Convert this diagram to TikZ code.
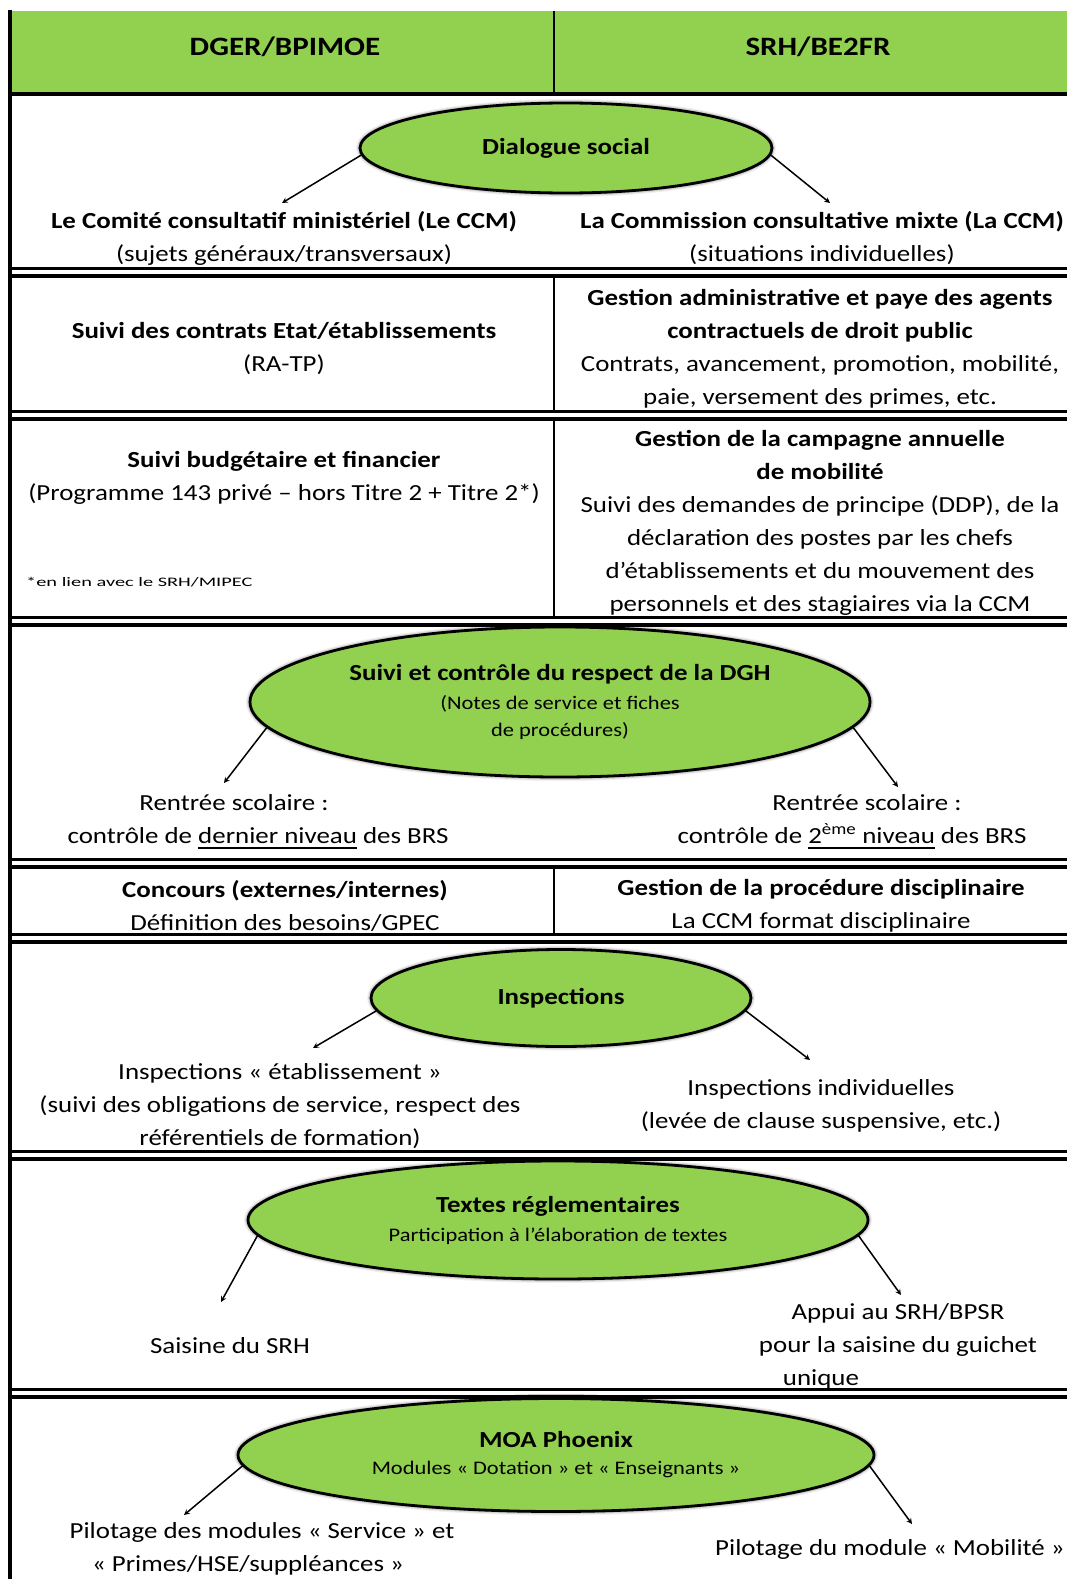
\documentclass[tikz,border=0pt]{standalone}
\usepackage{fontspec}
\setmainfont{Carlito}[FakeStretch=1.17]
\usetikzlibrary{arrows, shapes.geometric, shadows.blur}
\definecolor{officegreen}{HTML}{92D050}
\newcommand{\bodyfont}{\fontsize{23}{33}\selectfont}
\newcommand{\smallfont}{\fontsize{19.2}{27}\selectfont}
\newcommand{\headfont}{\fontsize{26.5}{34}\selectfont\bfseries}
\newcommand{\ulbar}[1]{\begingroup\setbox0=\hbox{#1}\rlap{\rule[-5pt]{\wd0}{2pt}}\box0\endgroup}
\tikzset{
    >=stealth, % arrow heads
    head/.style={font=\headfont, inner sep=0pt}, % column titles
    txt/.style={align=center, font=\bodyfont, inner sep=0pt}, % cell text
    bubble/.style={ellipse, draw=black, line width=2.8pt, fill=officegreen,
        align=center, font=\bodyfont, inner sep=0pt,
        blur shadow={shadow xshift=0pt, shadow yshift=0pt,
            shadow blur radius=4pt, shadow opacity=85}}, % green topics
    link/.style={->, line width=1.5pt}, % topic -> text
    rule/.style={line width=4pt},
    split/.style={line width=2.5pt}, % column divider
    sep/.style={double, double distance=4pt, line width=3.5pt}, % row border
}
\begin{document}
\begin{tikzpicture}[x=1pt, y=-1pt]
\useasboundingbox (0,0) rectangle (1067,1579);
% header
\fill[officegreen] (11.5,11) rectangle (1067,94);
\node[head] (dger) at (285,47) {DGER/BPIMOE};
\node[head] (srh) at (818,47) {SRH/BE2FR};
% grid
\draw[split] (554,11) -- (554,94);
\draw[split] (554,272) -- (554,621);
\draw[split] (554,863) -- (554,938);
\foreach \y in {272,415,621,863,938,1155,1393}
    \draw[sep] (11.5,\y) -- (1067,\y);
\draw[rule] (9.5,10) -- (9.5,1579);
\draw[rule] (7.5,94) -- (1067,94);

% dialogue social
\node[bubble, minimum width=412pt, minimum height=90pt] (dialog) at (566,148) {\textbf{Dialogue social}};
\node[txt] (ccmin) at (284,238) {\textbf{Le Comité consultatif ministériel (Le CCM)}\\(sujets généraux/transversaux)};
\node[txt] (ccmix) at (822,238) {\textbf{La Commission consultative mixte (La CCM)}\\(situations individuelles)};
\coordinate (ccmintip) at (282,203);
\coordinate (ccmixtip) at (830,203);
\draw[link] (dialog.182) -- (ccmintip);
\draw[link] (dialog.-2) -- (ccmixtip);

% contrats / gestion
\node[txt] (contrats) at (284,349) {\textbf{Suivi des contrats Etat/établissements}\\(RA-TP)};
\node[txt] (gestadm) at (820,349) {\textbf{Gestion administrative et paye des agents}\\\textbf{contractuels de droit public}\\Contrats, avancement, promotion, mobilité,\\paie, versement des primes, etc.};

% budget / mobilite
\node[txt] (budget) at (284,478) {\textbf{Suivi budgétaire et financier}\\(Programme 143 privé – hors Titre 2 + Titre 2*)};
\node[anchor=west, inner sep=0pt, font=\fontsize{13}{15}\selectfont] (note) at (26,582) {\scalebox{1.34}[1]{*en lien avec le SRH/MIPEC}};
\node[txt] (mobil) at (820,523) {\textbf{Gestion de la campagne annuelle}\\\textbf{de mobilité}\\Suivi des demandes de principe (DDP), de la\\déclaration des postes par les chefs\\d’établissements et du mouvement des\\personnels et des stagiaires via la CCM};

% DGH
\node[bubble, minimum width=620pt, minimum height=150pt] (dgh) at (560,702) {\textbf{Suivi et contrôle du respect de la DGH}\\[-4pt]\smallfont(Notes de service et fiches\\[-6pt]\smallfont de procédures)};
\node[txt] (rsdger) at (258,822) {Rentrée scolaire :\hspace*{48pt}\\contrôle de \ulbar{dernier niveau} des BRS};
\node[txt] (rssrh) at (852,822) {\hspace*{30pt}Rentrée scolaire :\\contrôle de \ulbar{2\textsuperscript{ème} niveau} des BRS};
\coordinate (rsdgertip) at (224,783);
\coordinate (rssrhtip) at (898,787);
\draw[link] (dgh.185) -- (rsdgertip);
\draw[link] (dgh.-5) -- (rssrhtip);

% concours / discipline
\node[txt] (concours) at (285,906) {\textbf{Concours (externes/internes)}\\Définition des besoins/GPEC};
\node[txt] (discip) at (821,906) {\textbf{Gestion de la procédure disciplinaire}\\La CCM format disciplinaire};

% inspections
\node[bubble, minimum width=380pt, minimum height=97pt] (insp) at (561,998) {\textbf{Inspections}};
\node[txt] (inspetab) at (280,1106) {Inspections « établissement »\\(suivi des obligations de service, respect des\\référentiels de formation)};
\node[txt] (inspind) at (821,1106) {Inspections individuelles\\(levée de clause suspensive, etc.)};
\coordinate (inspetabtip) at (313,1048);
\coordinate (inspindtip) at (810,1060);
\draw[link] (insp.184) -- (inspetabtip);
\draw[link] (insp.-4) -- (inspindtip);

% textes
\node[bubble, minimum width=620pt, minimum height=118pt] (texts) at (558,1220) {\textbf{Textes réglementaires}\\[-4pt]\smallfont Participation à l’élaboration de textes};
\node[txt] (saisine) at (230,1346) {Saisine du SRH};
\node[txt] (appui) at (898,1346) {Appui au SRH/BPSR\\pour la saisine du guichet\\\hspace*{-154pt}unique};
\coordinate (saisinetip) at (221,1302);
\coordinate (appuitip) at (901,1295);
\draw[link] (texts.183) -- (saisinetip);
\draw[link] (texts.-3) -- (appuitip);

% phoenix
\node[bubble, minimum width=636pt, minimum height=113pt] (moa) at (556,1455) {\textbf{MOA Phoenix}\\[-6pt]\smallfont Modules « Dotation » et « Enseignants »};
\node[txt] (pilserv) at (262,1549) {Pilotage des modules « Service » et\\« Primes/HSE/suppléances »\hspace*{28pt}};
\node[txt] (pilmob) at (890,1549) {Pilotage du module « Mobilité »};
\coordinate (pilservtip) at (184,1515);
\coordinate (pilmobtip) at (912,1524);
\draw[link] (moa.182) -- (pilservtip);
\draw[link] (moa.-2) -- (pilmobtip);
\end{tikzpicture}
\end{document}
